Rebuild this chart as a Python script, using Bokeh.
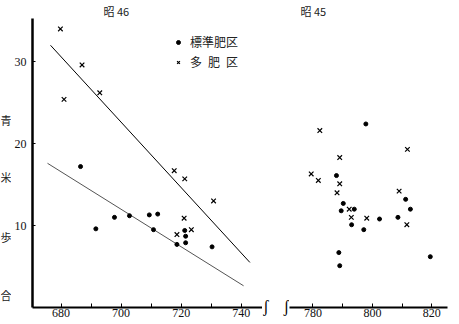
from bokeh.plotting import figure
from bokeh.models import Range1d, FixedTicker, Legend, LegendItem, Title
from bokeh.core.properties import value
from bokeh.layouts import row
from bokeh.embed import file_html
from bokeh.resources import INLINE

# ---- data: 昭46 (left panel) ----
s46_std_x = [686.5, 691.6, 697.8, 702.8, 709.4, 712.2, 710.8, 721.2, 721.5, 721.5, 718.6, 730.3]
s46_std_y = [17.2, 9.6, 11.0, 11.2, 11.3, 11.4, 9.5, 9.4, 8.7, 7.9, 7.7, 7.4]
s46_heavy_x = [679.8, 687.0, 681.0, 692.9, 717.7, 721.2, 730.8, 721.0, 718.6, 723.4]
s46_heavy_y = [34.0, 29.6, 25.4, 26.2, 16.7, 15.7, 13.0, 10.9, 8.9, 9.5]
reg_heavy_x = [676.5, 742.9]
reg_heavy_y = [32.0, 5.5]
reg_std_x = [675.5, 740.8]
reg_std_y = [17.6, 2.65]

# ---- data: 昭45 (right panel) ----
s45_std_x = [797.8, 787.9, 811.2, 812.8, 790.2, 789.5, 793.9, 793.0, 802.4, 808.6, 797.1, 788.7, 789.0, 819.5]
s45_std_y = [22.4, 16.1, 13.2, 12.0, 12.7, 11.8, 12.0, 10.1, 10.8, 11.0, 9.5, 6.7, 5.1, 6.2]
s45_heavy_x = [782.3, 811.8, 789.0, 779.4, 781.8, 789.0, 788.1, 809.0, 792.2, 792.9, 798.1, 811.6]
s45_heavy_y = [21.6, 19.3, 18.3, 16.3, 15.5, 15.1, 14.0, 14.2, 12.0, 11.0, 10.9, 10.1]

left_ticks = [680, 700, 720, 740]
left_minor = [690, 710, 730]
right_ticks = [780, 800, 820]
right_minor = [790, 810]
y_ticks = [10, 20, 30]
y_title_chars = ["青", "米", "歩", "合"]
y_title_pos = [22.9, 15.9, 8.6, 1.5]
legend_labels = ["標準肥区", "多\u2002肥\u2002区"]
panel_titles = ["昭 46", "昭 45"]

SERIF = "serif"
CJK = "Noto Sans CJK JP"
H = 324
Y_END = 35.27   # frame top sits below the titles


def style_xaxis(p, ticks, minor):
    ax = p.xaxis[0]
    ax.ticker = FixedTicker(ticks=ticks, minor_ticks=minor)
    ax.axis_line_width = 2
    ax.axis_line_color = "black"
    ax.major_tick_in = 4
    ax.major_tick_out = 0
    ax.minor_tick_in = 4
    ax.minor_tick_out = 0
    ax.major_tick_line_color = "black"
    ax.minor_tick_line_color = "black"
    ax.major_label_text_font = SERIF
    ax.major_label_text_font_size = "12px"
    ax.major_label_text_color = "#111"
    ax.major_label_standoff = 1


def base_fig(width, x_range, ml, mr):
    p = figure(width=width, height=H, x_range=x_range, y_range=Range1d(0, Y_END),
               output_backend="svg", toolbar_location=None,
               min_border_left=ml, min_border_right=mr, min_border_top=13,
               min_border_bottom=17)
    p.outline_line_color = None
    p.xgrid.visible = False
    p.ygrid.visible = False
    p.background_fill_color = "white"
    p.border_fill_color = "white"
    return p


def blank_fig(width, x_range, y_range):
    p = figure(width=width, height=H, x_range=Range1d(*x_range), y_range=Range1d(*y_range),
               output_backend="svg", toolbar_location=None,
               min_border=0, min_border_left=0, min_border_right=0,
               min_border_top=0, min_border_bottom=0,
               x_axis_location=None, y_axis_location=None)
    p.outline_line_color = None
    p.xgrid.visible = False
    p.ygrid.visible = False
    p.border_fill_color = "white"
    p.background_fill_color = "white"
    return p


def add_title(p, text, offset):
    p.add_layout(Title(text=text, align="left", offset=offset, standoff=0,
                       text_font=CJK, text_font_size="11px",
                       text_font_style="normal", text_color="#222"), "above")


# ---------------- y-title strip (vertical 青米歩合) ----------------
# its frame is aligned with the left panel's frame, so it shares the y scale
strip = blank_fig(11, (0, 11), (0, Y_END))
strip.text(x=[5.5] * len(y_title_chars), y=y_title_pos, text=y_title_chars,
           text_font=value(CJK), text_font_size="11px", text_align="center",
           text_baseline="middle", text_color="#222")

# ---------------- left panel ----------------
pl = base_fig(251, Range1d(670.5, 747.1), 18, 0)
style_xaxis(pl, left_ticks, left_minor)
ya = pl.yaxis[0]
ya.ticker = FixedTicker(ticks=y_ticks)
ya.axis_line_width = 2.5
ya.major_tick_in = 3
ya.major_tick_out = 0
ya.minor_tick_in = 0
ya.minor_tick_out = 0
ya.major_label_text_font = SERIF
ya.major_label_text_font_size = "12px"
ya.major_label_text_color = "#111"
ya.major_label_standoff = 6

pl.line(reg_heavy_x, reg_heavy_y, line_color="black", line_width=1)
pl.line(reg_std_x, reg_std_y, line_color="#555555", line_width=1)
r_std = pl.scatter(s46_std_x, s46_std_y, marker="circle", size=4,
                   fill_color="black", line_color="black")
r_heavy = pl.scatter(s46_heavy_x, s46_heavy_y, marker="x", size=6.5,
                     line_color="black", line_width=1.2)

legend = Legend(items=[LegendItem(label=legend_labels[0], renderers=[r_std]),
                       LegendItem(label=legend_labels[1], renderers=[r_heavy])],
                location=(141, 237), glyph_width=10, glyph_height=14,
                label_height=14, label_standoff=7, padding=0, spacing=3,
                margin=0, border_line_color=None, background_fill_alpha=0,
                label_text_font=CJK, label_text_font_size="12px",
                label_text_color="#222")
pl.add_layout(legend)
add_title(pl, panel_titles[0], 71)

# ---------------- break marks strip (not frame-aligned: spans the full height) ----------------
brk = blank_fig(27, (0, 27), (0, H))
brk.title = None
brk.frame_align = False
brk.text(x=[3.5, 24], y=[H - 306, H - 306], text=["ʃ", "ʃ"],
         text_font=value(SERIF), text_font_size="16px", text_align="center",
         text_baseline="middle", text_color="black")

# ---------------- right panel ----------------
pr = base_fig(170, Range1d(772.09, 825.29), 0, 12)
pr.yaxis.visible = False
style_xaxis(pr, right_ticks, right_minor)
pr.scatter(s45_std_x, s45_std_y, marker="circle", size=4,
           fill_color="black", line_color="black")
pr.scatter(s45_heavy_x, s45_heavy_y, marker="x", size=6.5,
           line_color="black", line_width=1.2)
add_title(pr, panel_titles[1], 11)

layout = row(strip, pl, brk, pr, spacing=0)
open("out.html", "w").write(file_html(layout, INLINE))
